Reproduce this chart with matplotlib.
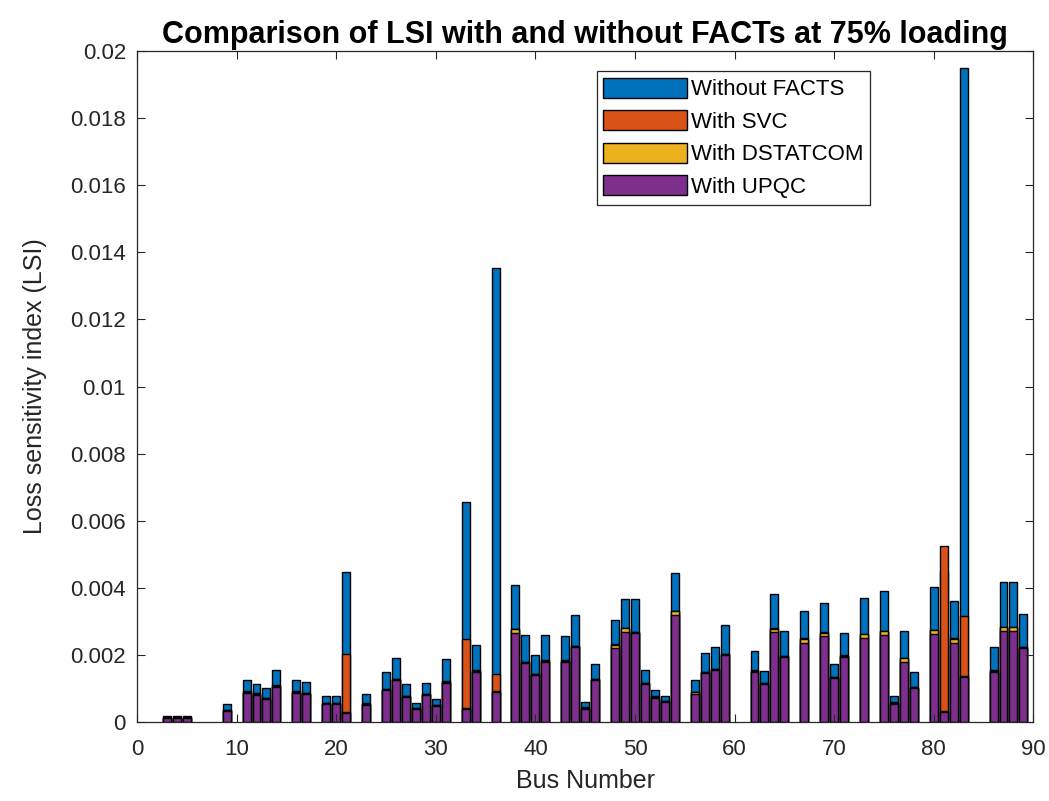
import matplotlib
matplotlib.use("Agg")
import matplotlib.pyplot as plt
from matplotlib.ticker import FuncFormatter

buses = [3, 4, 5, 9, 11, 12, 13, 14, 16, 17, 19, 20, 21, 23, 25, 26, 27, 28, 29, 30,
         31, 33, 34, 36, 38, 39, 40, 41, 43, 44, 45, 46, 48, 49, 50, 51, 52, 53, 54, 56,
         57, 58, 59, 62, 63, 64, 65, 67, 69, 70, 71, 73, 75, 76, 77, 78, 80, 81, 82, 83,
         86, 87, 88, 89]

without_facts = [0.00018, 0.00018, 0.00018, 0.00055, 0.00125, 0.00112, 0.00100, 0.00155, 0.00125, 0.00118,
                 0.00077, 0.00077, 0.00448, 0.00083, 0.00148, 0.00190, 0.00113, 0.00058, 0.00117, 0.00070,
                 0.00189, 0.00655, 0.00230, 0.01352, 0.00407, 0.00260, 0.00200, 0.00260, 0.00255, 0.00320,
                 0.00060, 0.00172, 0.00303, 0.00367, 0.00367, 0.00155, 0.00095, 0.00078, 0.00445, 0.00125,
                 0.00207, 0.00225, 0.00290, 0.00213, 0.00153, 0.00383, 0.00272, 0.00331, 0.00355, 0.00172,
                 0.00265, 0.00370, 0.00390, 0.00077, 0.00272, 0.00148, 0.00402, 0.00450, 0.00360, 0.01949,
                 0.00225, 0.00418, 0.00418, 0.00323]

with_svc = [0.00014, 0.00014, 0.00014, 0.00037, 0.00091, 0.00086, 0.00072, 0.00109, 0.00091, 0.00087,
            0.00057, 0.00057, 0.00203, 0.00056, 0.00099, 0.00129, 0.00079, 0.00042, 0.00084, 0.00052,
            0.00121, 0.00247, 0.00154, 0.00143, 0.00278, 0.00179, 0.00144, 0.00184, 0.00184, 0.00227,
            0.00044, 0.00129, 0.00232, 0.00280, 0.00269, 0.00117, 0.00077, 0.00064, 0.00332, 0.00089,
            0.00149, 0.00159, 0.00204, 0.00154, 0.00116, 0.00279, 0.00197, 0.00249, 0.00267, 0.00134,
            0.00199, 0.00262, 0.00272, 0.00059, 0.00192, 0.00104, 0.00275, 0.00525, 0.00249, 0.00315,
            0.00154, 0.00284, 0.00283, 0.00224]

with_dstatcom = [0.00013, 0.00013, 0.00013, 0.00036, 0.00090, 0.00085, 0.00071, 0.00108, 0.00090, 0.00086,
                 0.00056, 0.00056, 0.00031, 0.00055, 0.00098, 0.00128, 0.00078, 0.00041, 0.00083, 0.00051,
                 0.00120, 0.00043, 0.00153, 0.00091, 0.00276, 0.00178, 0.00143, 0.00183, 0.00183, 0.00226,
                 0.00043, 0.00128, 0.00231, 0.00279, 0.00268, 0.00116, 0.00076, 0.00063, 0.00331, 0.00088,
                 0.00148, 0.00158, 0.00203, 0.00153, 0.00115, 0.00278, 0.00196, 0.00248, 0.00266, 0.00133,
                 0.00198, 0.00261, 0.00271, 0.00058, 0.00191, 0.00103, 0.00274, 0.00033, 0.00248, 0.00138,
                 0.00153, 0.00283, 0.00282, 0.00223]

with_upqc = [0.00012, 0.00012, 0.00012, 0.00033, 0.00087, 0.00082, 0.00068, 0.00105, 0.00087, 0.00083,
             0.00053, 0.00053, 0.00028, 0.00052, 0.00095, 0.00125, 0.00075, 0.00038, 0.00080, 0.00048,
             0.00117, 0.00040, 0.00150, 0.00088, 0.00265, 0.00175, 0.00140, 0.00180, 0.00180, 0.00223,
             0.00040, 0.00125, 0.00220, 0.00268, 0.00265, 0.00113, 0.00073, 0.00060, 0.00320, 0.00085,
             0.00145, 0.00155, 0.00200, 0.00150, 0.00112, 0.00267, 0.00193, 0.00237, 0.00255, 0.00130,
             0.00195, 0.00250, 0.00260, 0.00055, 0.00180, 0.00100, 0.00263, 0.00030, 0.00237, 0.00135,
             0.00150, 0.00272, 0.00270, 0.00220]

series = [
    ("Without FACTS", without_facts, "#0072BD"),
    ("With SVC", with_svc, "#D95319"),
    ("With DSTATCOM", with_dstatcom, "#EDB120"),
    ("With UPQC", with_upqc, "#7E2F8E"),
]


def main():
    plt.rcParams["font.family"] = ["Liberation Sans", "DejaVu Sans"]
    text_color = "#262626"

    fig = plt.figure(figsize=(10.49, 8.01), dpi=100)
    ax = fig.add_axes([0.1306, 0.0986, 0.8545, 0.8377])

    for label, values, color in series:
        ax.bar(buses, values, width=0.8, color=color, edgecolor="black",
               linewidth=1.0, label=label)

    ax.set_xlim(0, 90)
    ax.set_ylim(0, 0.02)
    ax.set_xticks(range(0, 91, 10))
    ax.set_yticks([i * 0.002 for i in range(11)])
    ax.yaxis.set_major_formatter(FuncFormatter(lambda v, p: "%g" % round(v, 4)))
    ax.tick_params(direction="in", top=True, right=True, length=6, width=0.8,
                   labelsize=16, colors=text_color, labelcolor=text_color)
    ax.tick_params(axis="x", pad=12)
    ax.tick_params(axis="y", pad=8)
    for s in ax.spines.values():
        s.set_color(text_color)
        s.set_linewidth(0.9)

    ax.set_xlabel("Bus Number", fontsize=18, color=text_color, labelpad=7)
    ax.set_ylabel("Loss sensitivity index (LSI)", fontsize=18, color=text_color, labelpad=17)
    ax.set_title("Comparison of LSI with and without FACTs at 75% loading",
                 fontsize=22, fontweight="bold", color="black", pad=6)

    leg = ax.legend(loc="upper right", bbox_to_anchor=(0.818, 0.970), fontsize=16,
                    handlelength=3.75, handleheight=1.0, handletextpad=0.2,
                    labelspacing=0.45, borderpad=0.3, borderaxespad=0,
                    fancybox=False, framealpha=1)
    leg.get_frame().set_edgecolor(text_color)
    leg.get_frame().set_linewidth(0.9)

    fig.savefig("out.png", dpi=100)


if __name__ == "__main__":
    main()
